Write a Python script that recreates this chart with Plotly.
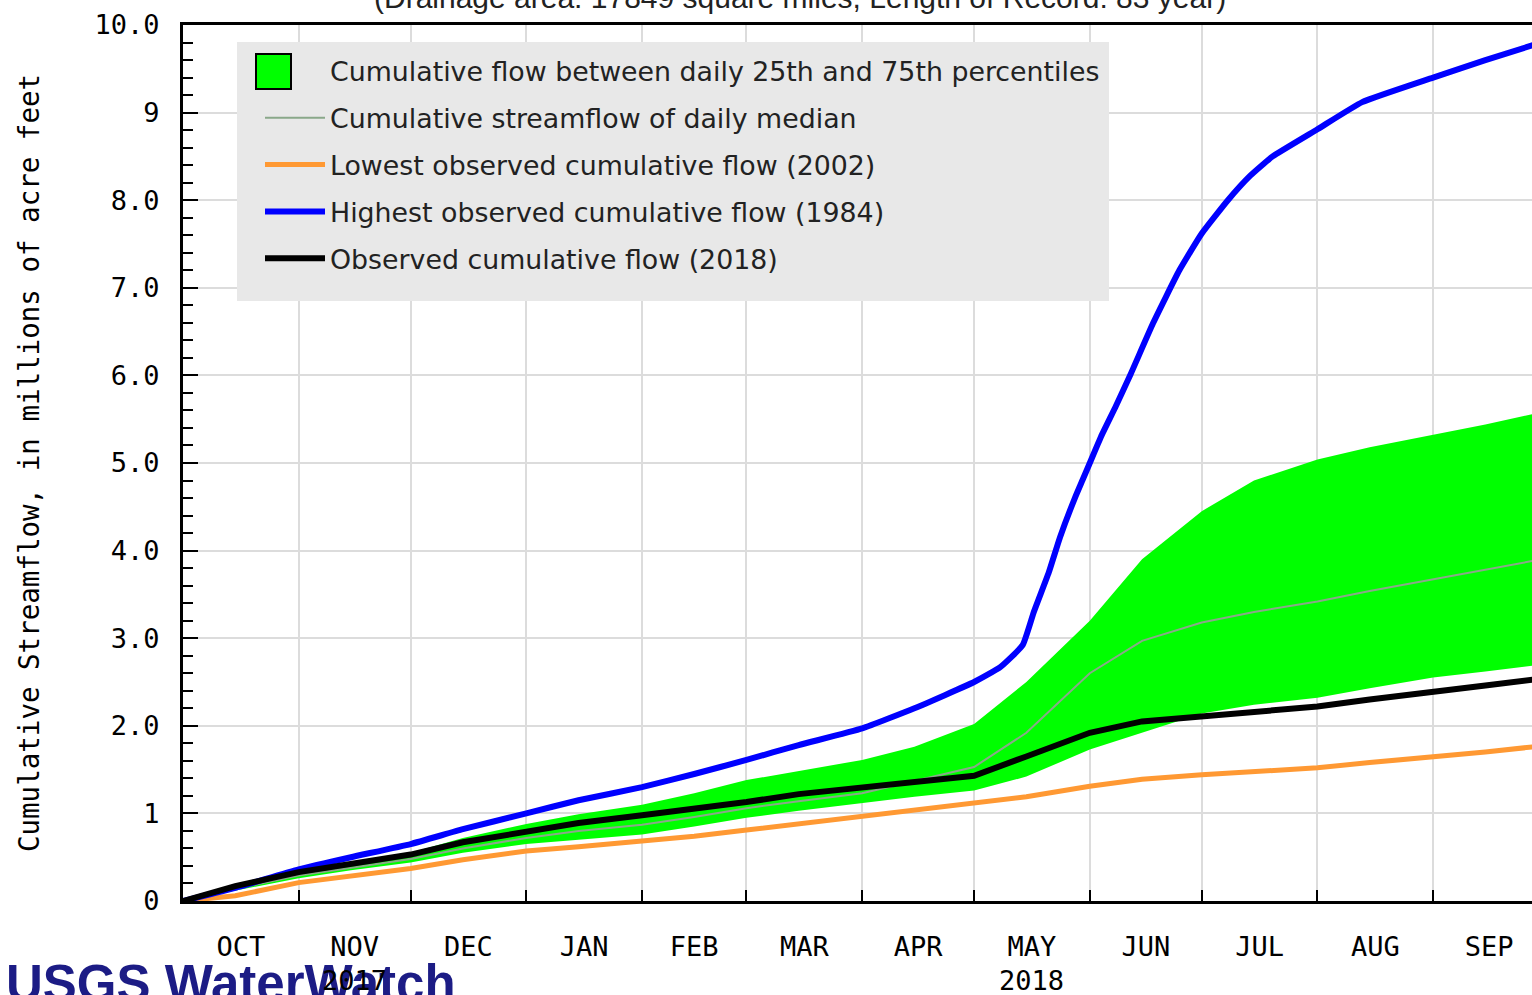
import plotly.graph_objects as go
import pandas as pd

# ---------------- data (millions of acre-feet) ----------------
dates = ["2017-10-01", "2017-10-15", "2017-11-01", "2017-11-15", "2017-12-01", "2017-12-15",
         "2018-01-01", "2018-01-15", "2018-02-01", "2018-02-15", "2018-03-01", "2018-03-15",
         "2018-04-01", "2018-04-15", "2018-05-01", "2018-05-15", "2018-06-01", "2018-06-15",
         "2018-07-01", "2018-07-15", "2018-08-01", "2018-08-15", "2018-09-01", "2018-09-15",
         "2018-09-30"]
p75 = [0, 0.16, 0.33, 0.44, 0.55, 0.72, 0.88, 0.99, 1.10, 1.23, 1.38, 1.48, 1.61, 1.76,
       2.02, 2.50, 3.20, 3.90, 4.45, 4.80, 5.04, 5.18, 5.32, 5.44, 5.58]
p25 = [0, 0.12, 0.26, 0.35, 0.44, 0.55, 0.65, 0.70, 0.76, 0.85, 0.95, 1.03, 1.12, 1.19,
       1.26, 1.42, 1.73, 1.92, 2.14, 2.24, 2.32, 2.43, 2.55, 2.62, 2.70]
median = [0, 0.14, 0.29, 0.38, 0.48, 0.60, 0.72, 0.80, 0.87, 0.96, 1.06, 1.14, 1.23, 1.37,
          1.53, 1.92, 2.60, 2.97, 3.18, 3.30, 3.42, 3.54, 3.67, 3.78, 3.90]
lowest_2002 = [0, 0.06, 0.21, 0.29, 0.37, 0.47, 0.57, 0.62, 0.68, 0.74, 0.81, 0.88, 0.96, 1.03,
               1.11, 1.19, 1.31, 1.39, 1.44, 1.48, 1.52, 1.58, 1.64, 1.70, 1.77]
observed_2018 = [0, 0.17, 0.33, 0.43, 0.53, 0.67, 0.80, 0.89, 0.98, 1.05, 1.13, 1.22, 1.30, 1.37,
                 1.43, 1.65, 1.92, 2.05, 2.11, 2.15, 2.22, 2.30, 2.38, 2.46, 2.54]

high_dates = ["2017-10-01", "2017-10-15", "2017-11-01", "2017-11-15", "2017-12-01", "2017-12-15",
              "2018-01-01", "2018-01-15", "2018-02-01", "2018-02-15", "2018-03-01", "2018-03-15",
              "2018-04-01", "2018-04-15", "2018-05-01", "2018-05-08", "2018-05-14", "2018-05-17",
              "2018-05-21", "2018-05-24", "2018-05-28", "2018-05-30", "2018-06-01", "2018-06-04",
              "2018-06-08", "2018-06-12", "2018-06-18", "2018-06-25", "2018-07-01", "2018-07-08",
              "2018-07-14", "2018-07-20", "2018-08-01", "2018-08-13", "2018-09-01", "2018-09-15",
              "2018-09-30"]
highest_1984 = [0, 0.15, 0.36, 0.50, 0.65, 0.82, 1.00, 1.15, 1.30, 1.45, 1.61, 1.78,
                1.97, 2.20, 2.50, 2.67, 2.92, 3.30, 3.75, 4.15, 4.60, 4.80, 5.00, 5.30,
                5.65, 6.02, 6.60, 7.20, 7.62, 8.00, 8.28, 8.50, 8.81, 9.12, 9.40, 9.60, 9.80]

month_starts = ["2017-10-01", "2017-11-01", "2017-12-01", "2018-01-01", "2018-02-01", "2018-03-01",
                "2018-04-01", "2018-05-01", "2018-06-01", "2018-07-01", "2018-08-01", "2018-09-01",
                "2018-10-01"]
month_labels = ["OCT", "NOV", "DEC", "JAN", "FEB", "MAR", "APR", "MAY", "JUN", "JUL", "AUG", "SEP"]
year_labels = [("2017", 1), ("2018", 7)]   # (text, index of month under which it sits)
y_ticks = [0, 1, 2, 3, 4, 5, 6, 7, 8, 9, 10]
y_ticktext = ["0", "1", "2.0", "3.0", "4.0", "5.0", "6.0", "7.0", "8.0", "9", "10.0"]

title_text = "(Drainage area: 17849 square miles, Length of Record: 83 year)"
ytitle = "Cumulative Streamflow, in millions of acre feet"

# ---------------- figure ----------------
ms = pd.to_datetime(month_starts)
mids = [ms[i] + (ms[i + 1] - ms[i]) / 2 for i in range(len(ms) - 1)]

MONO = "DejaVu Sans Mono"
fig = go.Figure()

fig.add_trace(go.Scatter(x=dates, y=p25, mode="lines", line=dict(width=0, color="#00ff00"),
                         showlegend=False, hoverinfo="skip"))
fig.add_trace(go.Scatter(x=dates, y=p75, mode="lines", line=dict(width=0, color="#00ff00"),
                         fill="tonexty", fillcolor="#00ff00", showlegend=False, hoverinfo="skip"))
# legend entry for the band (its square swatch is drawn as a layout shape below)
fig.add_trace(go.Scatter(x=[None], y=[None], mode="lines", legendgroup="a",
                         line=dict(color="rgba(0,0,0,0)", width=0),
                         name="Cumulative flow between daily 25th and 75th percentiles"))
fig.add_trace(go.Scatter(x=dates, y=median, mode="lines", legendgroup="b",
                         name="Cumulative streamflow of daily median",
                         line=dict(color="#8aa88a", width=2)))
fig.add_trace(go.Scatter(x=dates, y=lowest_2002, mode="lines", legendgroup="c",
                         name="Lowest observed cumulative flow (2002)",
                         line=dict(color="#ff9933", width=5)))
fig.add_trace(go.Scatter(x=high_dates, y=highest_1984, mode="lines", legendgroup="d",
                         name="Highest observed cumulative flow (1984)",
                         line=dict(color="#0000ff", width=6, shape="spline", smoothing=0.4)))
fig.add_trace(go.Scatter(x=dates, y=observed_2018, mode="lines", legendgroup="e",
                         name="Observed cumulative flow (2018)",
                         line=dict(color="#000000", width=6)))

L, T, W, H = 183, 25, 1532, 995
PW, PH = W - L, 901 - T


def px(x):
    return (x - L) / PW


def py(y):
    return (901 - y) / PH


x_range = ["2017-10-01", "2018-09-27 12:00"]

fig.update_layout(
    width=W, height=H,
    margin=dict(l=L, r=0, t=T, b=H - 901, pad=0, autoexpand=False),
    paper_bgcolor="white", plot_bgcolor="white",
    font=dict(family=MONO, size=27, color="black"),
    xaxis=dict(type="date", range=x_range, tickmode="array", tickvals=month_starts[:-1],
               showticklabels=False, ticks="inside", ticklen=11, tickwidth=2, tickcolor="black",
               showgrid=True, gridcolor="#dcdcdc", gridwidth=2, automargin=False,
               showline=True, linecolor="black", linewidth=3, mirror=True, zeroline=False),
    xaxis2=dict(type="date", range=x_range, overlaying="x", anchor="y", side="bottom",
                tickmode="array", tickvals=mids, ticktext=month_labels, ticks="",
                showgrid=False, showline=False, zeroline=False, ticklabelstandoff=27,
                automargin=False, tickfont=dict(family=MONO, size=27, color="black")),
    yaxis=dict(range=[0, 10], tickmode="array", tickvals=y_ticks, ticktext=y_ticktext,
               ticks="inside", ticklen=15, tickwidth=2, tickcolor="black",
               minor=dict(dtick=0.2, ticks="inside", ticklen=10, tickwidth=2, tickcolor="black",
                          showgrid=False),
               showgrid=True, gridcolor="#dcdcdc", gridwidth=2, zeroline=False,
               showline=True, linecolor="black", linewidth=3, automargin=False,
               ticklabelstandoff=15, tickfont=dict(family=MONO, size=27),
               title=dict(text=ytitle, font=dict(family=MONO, size=27.5), standoff=47)),
    legend=dict(x=px(260), y=py(47), xanchor="left", yanchor="top",
                bgcolor="rgba(0,0,0,0)", borderwidth=0, itemwidth=60,
                tracegroupgap=9, traceorder="grouped",
                font=dict(family="DejaVu Sans", size=26.8, color="#222222")),
    shapes=[
        dict(type="rect", xref="paper", yref="paper", layer="above",
             x0=px(237), x1=px(1109), y0=py(301), y1=py(42),
             fillcolor="#e8e8e8", line=dict(width=0)),
        dict(type="rect", xref="paper", yref="paper", layer="above",
             x0=px(256), x1=px(291), y0=py(89), y1=py(54),
             fillcolor="#00ff00", line=dict(color="black", width=2)),
    ],
    showlegend=True,
)
# dummy trace on xaxis2 so the label axis is always drawn
fig.add_trace(go.Scatter(x=[None], y=[None], xaxis="x2", showlegend=False, hoverinfo="skip"))

fig.add_annotation(text=title_text, xref="paper", yref="paper", x=px(800),
                   y=py(16), xanchor="center", yanchor="bottom", showarrow=False,
                   font=dict(family="Liberation Sans", size=30, color="#222222"))
fig.add_annotation(text="<b>USGS WaterWatch</b>", xref="paper", yref="paper", x=px(4),
                   y=py(953), xanchor="left", yanchor="top", showarrow=False,
                   font=dict(family="Liberation Sans", size=51, color="#1c1c85"))
for txt, idx in year_labels:
    fig.add_annotation(text=txt, xref="x", yref="paper", x=mids[idx], y=py(963),
                       xanchor="center", yanchor="top", showarrow=False,
                       font=dict(family=MONO, size=27, color="black"))

fig.write_html("out.html", config={"displayModeBar": False},
               post_script="document.body.style.margin='0';document.body.style.overflow='hidden';")
